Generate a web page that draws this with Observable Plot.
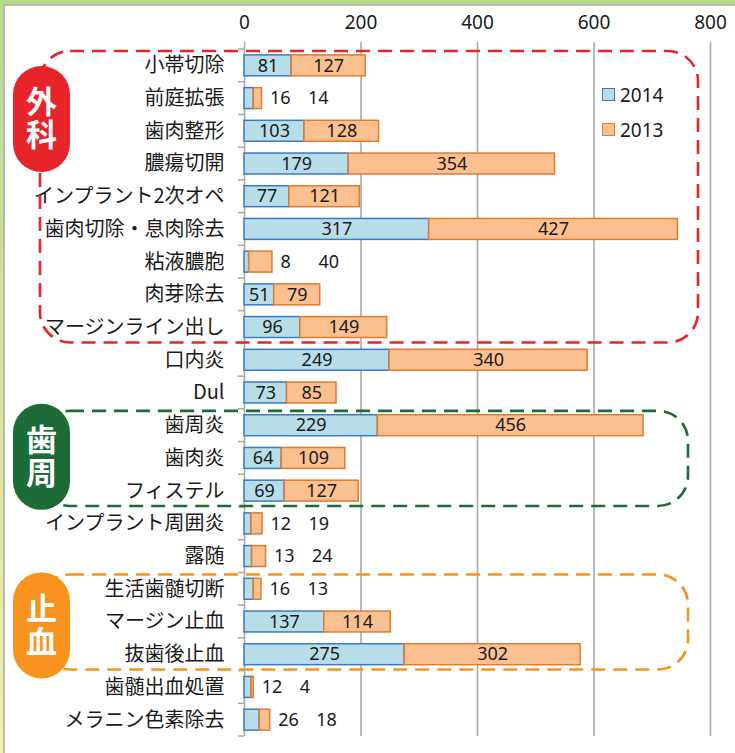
<!DOCTYPE html>
<html><head><meta charset="utf-8">
<script src="https://cdn.jsdelivr.net/npm/d3@7"></script>
<script src="https://cdn.jsdelivr.net/npm/@observablehq/plot@0.6"></script>
<style>
html,body{margin:0;padding:0;background:#fff;}
#wrap{position:relative;width:735px;height:753px;overflow:hidden;background:#fff;}
#frameTop{position:absolute;left:0;top:0;width:735px;height:4px;background:#b6d98c;}
#frameLeft{position:absolute;left:0;top:0;width:3px;height:753px;background:linear-gradient(#b6d98c,#f4f1a6);}
#inner{position:absolute;left:3px;top:4px;right:0;bottom:0;border-left:2px solid #b9b9b9;border-top:2px solid #b9b9b9;}
#chart{position:absolute;left:0;top:0;}
#legend{position:absolute;left:602px;top:77px;font-family:"Noto Sans","Noto Sans CJK JP",sans-serif;font-size:19px;color:#1a1a1a;}
#legend .row{display:flex;align-items:center;height:35px;}
#legend .sw{width:11px;height:11px;margin-right:5px;border:1.5px solid;}
</style></head>
<body>
<div id="wrap">
  <div id="frameTop"></div><div id="frameLeft"></div><div id="inner"></div>
  <div id="chart"></div>
  <div id="legend"></div>
</div>
<script>
const categories = ["小帯切除","前庭拡張","歯肉整形","膿瘍切開","インプラント2次オペ","歯肉切除・息肉除去","粘液膿胞","肉芽除去","マージンライン出し","口内炎","Dul","歯周炎","歯肉炎","フィステル","インプラント周囲炎","露随","生活歯髄切断","マージン止血","抜歯後止血","歯髄出血処置","メラニン色素除去"];
const v2014 = [81,16,103,179,77,317,8,51,96,249,73,229,64,69,12,13,16,137,275,12,26];
const v2013 = [127,14,128,354,121,427,40,79,149,340,85,456,109,127,19,24,13,114,302,4,18];
const years = ["2014","2013"];
const xTicks = [0,200,400,600,800];
const groups = [
  {label:"外科", from:"小帯切除", to:"マージンライン出し"},
  {label:"歯周", from:"歯周炎", to:"フィステル"},
  {label:"止血", from:"生活歯髄切断", to:"抜歯後止血"}
];

const fillC = {"2014":"#b7dde8","2013":"#fac090"};
const strokeC = {"2014":"#3a7cc1","2013":"#e07b30"};
const groupStyle = {
  "外科":{color:"#e8242b", right:698, pillDy:15},
  "歯周":{color:"#1d6b37", right:688, pillDy:-7},
  "止血":{color:"#f7931e", right:688, pillDy:-2}
};

const rows = categories.flatMap((c,i)=>{
  const total = v2014[i]+v2013[i];
  return [
    {cat:c, year:"2014", value:v2014[i], start:0, end:v2014[i], total},
    {cat:c, year:"2013", value:v2013[i], start:v2014[i], end:total, total}
  ];
});
const small = d => d.total < 50;
const numFont = '"Noto Sans","Noto Sans CJK JP",sans-serif';

const chart = Plot.plot({
  width:735, height:753,
  marginLeft:244, marginRight:25, marginTop:49, marginBottom:17,
  style:{background:"transparent", fontFamily:numFont, fontSize:"18px", color:"#1a1a1a", overflow:"visible"},
  x:{domain:[0,800]},
  y:{domain:categories, paddingInner:0.36, paddingOuter:0.18, round:false, label:null},
  marks:[
    Plot.ruleX(xTicks.slice(1), {stroke:"#a9a9a9", strokeWidth:1.6, insetTop:-7}),
    Plot.ruleX([0], {stroke:"#a9a9a9", strokeWidth:1.6, insetTop:-7}),
    ...years.map(yr => Plot.barX(rows.filter(d=>d.year===yr), {x1:"start", x2:"end", y:"cat", fill:fillC[yr], stroke:strokeC[yr], strokeWidth:1.5})),
    Plot.text(rows.filter(d=>!small(d)), {x:d=>(d.start+d.end)/2, y:"cat", text:"value", fill:"#1a1a1a", fontSize:18}),
    Plot.text(rows.filter(d=>small(d)&&d.year==="2014"), {x:"total", y:"cat", text:"value", textAnchor:"start", dx:8, fill:"#1a1a1a", fontSize:18}),
    Plot.text(rows.filter(d=>small(d)&&d.year==="2013"), {x:"total", y:"cat", text:"value", textAnchor:"start", dx:46, fill:"#1a1a1a", fontSize:18}),
    Plot.axisX(xTicks, {anchor:"top", tickSize:0, tickPadding:21, fontSize:19, fill:"#1a1a1a", label:null}),
    Plot.axisY({tickSize:0, tickPadding:20, fontSize:20, fill:"#1a1a1a", fontFamily:'"Noto Sans CJK JP",sans-serif', label:null})
  ]
});
document.getElementById("chart").appendChild(chart);

// category boundary ticks and group annotations, using Plot's scales
const ys = chart.scale("y");
const xs = chart.scale("x");
const step = ys.step, bw = ys.bandwidth;
const bandTop = c => ys.apply(c) - (step-bw)/2;
const svg = d3.select(chart);
const gt = svg.append("g");
const x0 = xs.apply(0);
categories.concat([null]).forEach((c,i)=>{
  const y = c===null ? bandTop(categories[categories.length-1]) + step : bandTop(c);
  gt.append("line").attr("x1", x0-6).attr("x2", x0).attr("y1", y).attr("y2", y)
    .attr("stroke","#a9a9a9").attr("stroke-width",1.5);
});
const ga = svg.append("g");
groups.forEach(g=>{
  const st = groupStyle[g.label];
  const top = bandTop(g.from) + 2;
  const bot = bandTop(g.to) + step - 1;
  ga.append("rect").attr("x",40).attr("y",top).attr("width",st.right-40).attr("height",bot-top)
    .attr("rx",30).attr("fill","none").attr("stroke",st.color).attr("stroke-width",2.6)
    .attr("stroke-dasharray","14 8");
  const pt = top + st.pillDy, ph = 106;
  ga.append("rect").attr("x",13).attr("y",pt).attr("width",57).attr("height",ph).attr("rx",28.5)
    .attr("fill",st.color);
  ga.append("text").attr("x",41.5).attr("y",pt+ph/2)
    .attr("text-anchor","middle")
    .style("writing-mode","vertical-rl").style("letter-spacing","2px")
    .attr("fill","#fff").attr("font-weight","bold").attr("font-size",31)
    .attr("font-family",'"Noto Sans CJK JP",sans-serif').text(g.label);
});

// legend
const lg = d3.select("#legend");
years.forEach(yr=>{
  const r = lg.append("div").attr("class","row");
  r.append("div").attr("class","sw").style("background",fillC[yr]).style("border-color",strokeC[yr]);
  r.append("span").text(yr);
});
</script>
</body></html>
